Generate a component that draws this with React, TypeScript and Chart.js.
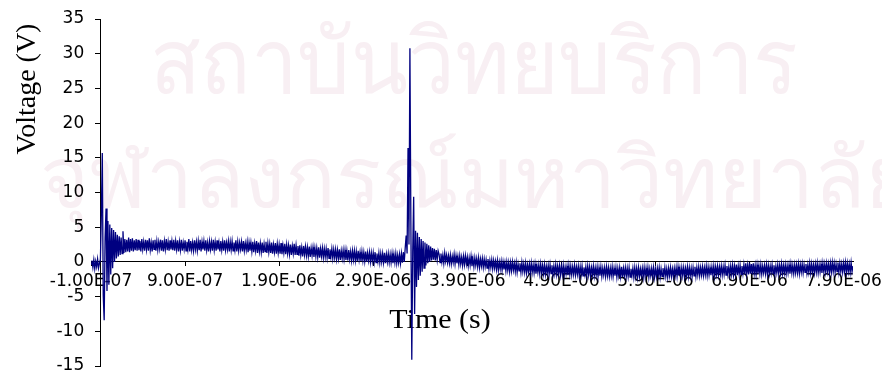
import React, { useEffect, useRef } from "react";
import { Chart, registerables } from "chart.js";

Chart.register(...registerables);

// Oscilloscope record, one sample every 10 ns.
const SAMPLE_STEP = 1e-8;

const preTriggerStart = -1.0e-7;
const preTrigger = [-0.3, 0.2, -0.8, 0.3, -1.0, 0.1, -0.7, 0.4, -0.9, -0.2];

const firstTransientStart = 0;
const firstTransient = [
  0.4, 6.8, 15.7, -4.8, -8.4, 3.5, 7.7, -4.2, 5.9, -3.3,
  5.4, -1.8, 4.9, -0.9, 4.6, 0.0, 4.3, 0.5, 3.9, 0.8,
  3.7, 1.0, 3.5, 1.2, 4.4, 1.3, 3.3, 1.4, 3.2, 1.5,
];

const plateauStart = 3.0e-7;
const plateau = [
  3.5, 1.4, 3.3, 1.6, 3.4, 1.5, 3.1, 1.7, 3.3, 1.6,
  3.2, 1.7, 3.0, 1.5, 3.3, 1.8, 2.9, 1.6, 3.2, 1.8,
  3.1, 1.6, 3.4, 1.7, 2.8, 1.5, 3.1, 1.8, 3.2, 1.6,
  3.0, 1.7, 2.9, 1.9, 3.2, 1.6, 3.1, 1.5, 3.0, 1.8,
  3.3, 1.7, 2.9, 1.6, 3.1, 1.8, 3.0, 1.7, 3.2, 1.6,
  3.0, 1.8, 3.1, 1.5, 2.9, 1.7, 3.2, 1.6, 2.8, 1.8,
  3.1, 1.6, 2.9, 1.8, 3.3, 1.5, 3.0, 1.7, 2.8, 1.6,
  3.1, 1.8, 2.9, 1.6, 3.0, 1.7, 3.2, 1.5, 2.9, 1.8,
  3.0, 1.6, 3.1, 1.7, 2.8, 1.5, 3.0, 1.8, 2.9, 1.6,
  3.2, 1.7, 2.9, 1.6, 3.1, 1.8, 2.8, 1.5, 3.0, 1.7,
  2.9, 1.6, 3.1, 1.7, 2.8, 1.8, 3.0, 1.5, 2.9, 1.7,
  3.0, 1.6, 2.8, 1.7, 3.1, 1.5, 2.9, 1.6, 2.8, 1.8,
  2.9, 1.5, 3.0, 1.6, 2.7, 1.7, 2.9, 1.4, 2.8, 1.6,
  2.8, 1.5, 2.9, 1.4, 2.7, 1.6, 3.0, 1.3, 2.8, 1.5,
  2.7, 1.4, 2.8, 1.3, 2.6, 1.5, 2.9, 1.3, 2.7, 1.4,
  2.6, 1.3, 2.8, 1.2, 2.5, 1.4, 2.7, 1.2, 2.6, 1.3,
  2.5, 1.2, 2.7, 1.1, 2.4, 1.3, 2.6, 1.1, 2.5, 1.2,
  2.4, 1.1, 2.5, 1.0, 2.3, 1.2, 2.6, 1.0, 2.4, 1.1,
  2.3, 0.9, 2.4, 1.0, 2.1, 0.8, 2.3, 1.0, 2.2, 0.9,
  2.1, 0.8, 2.2, 0.7, 2.0, 0.9, 2.1, 0.7, 2.0, 0.8,
  2.0, 0.7, 2.1, 0.6, 1.9, 0.8, 2.0, 0.6, 1.9, 0.7,
  1.9, 0.6, 2.0, 0.5, 1.8, 0.7, 1.9, 0.5, 1.8, 0.6,
  1.8, 0.4, 1.7, 0.5, 1.8, 0.3, 1.6, 0.5, 1.7, 0.4,
  1.7, 0.3, 1.6, 0.2, 1.7, 0.4, 1.5, 0.2, 1.6, 0.3,
  1.6, 0.2, 1.5, 0.1, 1.6, 0.3, 1.4, 0.1, 1.5, 0.2,
  1.4, 0.1, 1.5, 0.0, 1.3, 0.2, 1.4, 0.0, 1.3, 0.1,
  1.3, 0.0, 1.4, -0.1, 1.2, 0.1, 1.3, -0.1, 1.2, 0.0,
  1.2, -0.1, 1.3, -0.2, 1.1, 0.0, 1.2, -0.1, 1.1, -0.1,
  1.2, -0.2, 1.1, -0.1, 1.2, -0.2, 1.0, -0.1, 1.1, -0.2,
  1.2, -0.1, 1.4, 0.0,
];

const secondTransientStart = 3.24e-6;
const secondTransient = [
  2.0, 3.8, 1.2, 16.4, 2.5, 30.8, 6.0, -14.1, 1.5, 9.4,
  -7.5, 4.5, -3.6, 4.2, -2.6, 3.6, -2.0, 3.3, -1.4, 3.0,
  -0.9, 2.8, -0.5, 2.6, -0.2, 2.4, 0.0, 2.2, 0.2, 2.0,
  0.3, 1.9, 0.2, 1.7, 0.3, 1.6,
];

const tailEarlyStart = 3.6e-6;
const tailEarly = [
  1.1, -0.1, 1.2, 0.0, 1.0, -0.2, 1.3, 0.1, 1.0, -0.1,
  0.9, -0.2, 1.0, -0.3, 0.8, -0.1, 1.1, -0.3, 0.9, -0.2,
  0.8, -0.4, 0.9, -0.3, 0.7, -0.5, 0.8, -0.4, 0.9, -0.3,
  0.7, -0.6, 0.6, -0.5, 0.8, -0.6, 0.5, -0.7, 0.6, -0.5,
  0.5, -0.7, 0.6, -0.8, 0.4, -0.6, 0.5, -0.8, 0.4, -0.7,
  0.3, -0.9, 0.4, -1.0, 0.2, -0.8, 0.3, -1.0, 0.2, -0.9,
  0.1, -1.1, 0.2, -1.2, 0.0, -1.0, 0.1, -1.2, 0.0, -1.1,
  -0.1, -1.3, 0.0, -1.2, -0.1, -1.4, -0.1, -1.3, 0.0, -1.2,
  -0.2, -1.4, -0.1, -1.5, -0.3, -1.3, -0.2, -1.5, -0.1, -1.4,
  -0.3, -1.5, -0.2, -1.6, -0.4, -1.4, -0.3, -1.6, -0.2, -1.5,
  -0.4, -1.6, -0.3, -1.7, -0.5, -1.5, -0.4, -1.7, -0.3, -1.6,
  -0.5, -1.7, -0.4, -1.8, -0.6, -1.6, -0.5, -1.8, -0.4, -1.7,
  -0.5, -1.8, -0.6, -1.7, -0.4, -1.8, -0.6, -1.7, -0.5, -1.9,
  -0.6, -1.8, -0.5, -1.9, -0.7, -1.7, -0.6, -1.9, -0.5, -1.8,
  -0.6, -1.9, -0.7, -1.8, -0.5, -1.9, -0.7, -1.8, -0.6, -2.0,
  -0.7, -1.9, -0.6, -2.0, -0.8, -1.8, -0.7, -2.0, -0.6, -1.9,
  -0.7, -2.0, -0.8, -1.9, -0.6, -2.0, -0.8, -1.9, -0.7, -2.1,
  -0.8, -2.0, -0.7, -2.1, -0.9, -1.9, -0.8, -2.1, -0.7, -2.0,
  -0.8, -2.1, -0.9, -2.0, -0.7, -2.1, -0.9, -2.0, -0.8, -2.2,
  -0.9, -2.0, -0.8, -2.1, -0.7, -2.2, -0.9, -2.0, -0.8, -2.1,
  -0.9, -2.1, -0.8, -2.2, -1.0, -2.0, -0.9, -2.2, -0.8, -2.1,
  -0.9, -2.2, -0.8, -2.1, -1.0, -2.0, -0.9, -2.2, -0.8, -2.1,
];

const tailLateStart = 5.8e-6;
const tailLate = [
  -0.9, -2.1, -0.8, -2.2, -1.0, -2.0, -0.9, -2.1, -0.8, -2.2,
  -1.0, -2.1, -0.9, -2.0, -0.8, -2.2, -1.0, -2.1, -0.9, -2.0,
  -0.8, -2.1, -1.0, -2.2, -0.9, -2.0, -0.8, -2.1, -1.0, -2.1,
  -0.9, -2.0, -0.8, -2.1, -0.7, -2.0, -0.9, -2.1, -0.8, -2.0,
  -0.8, -2.1, -0.9, -2.0, -0.7, -2.1, -0.8, -2.0, -0.9, -2.1,
  -0.8, -2.0, -0.7, -2.1, -0.8, -1.9, -0.7, -2.0, -0.8, -1.9,
  -0.7, -2.0, -0.8, -1.9, -0.6, -2.0, -0.7, -1.9, -0.8, -1.9,
  -0.7, -1.9, -0.6, -2.0, -0.7, -1.8, -0.6, -1.9, -0.7, -1.8,
  -0.6, -1.9, -0.7, -1.8, -0.5, -1.9, -0.6, -1.8, -0.7, -1.9,
  -0.6, -1.8, -0.5, -1.9, -0.6, -1.8, -0.4, -1.9, -0.6, -1.8,
  -0.5, -1.8, -0.6, -1.7, -0.4, -1.8, -0.2, -1.7, -0.5, -1.8,
  -0.1, -1.7, -0.3, -1.8, -0.2, -1.7, -0.5, -1.8, -0.4, -1.7,
  -0.5, -1.7, -0.4, -1.8, -0.6, -1.6, -0.5, -1.7, -0.4, -1.8,
  -0.5, -1.7, -0.6, -1.6, -0.4, -1.7, -0.5, -1.8, -0.6, -1.6,
  -0.4, -1.7, -0.5, -1.6, -0.3, -1.7, -0.5, -1.6, -0.4, -1.7,
  -0.5, -1.6, -0.4, -1.7, -0.3, -1.6, -0.5, -1.7, -0.4, -1.6,
  -0.4, -1.6, -0.3, -1.7, -0.4, -1.5, -0.3, -1.6, -0.4, -1.5,
  -0.3, -1.6, -0.4, -1.5, -0.2, -1.6, -0.3, -1.5, -0.4, -1.6,
  -0.3, -1.5, -0.2, -1.6, -0.4, -1.5, -0.3, -1.6, -0.2, -1.5,
  -0.3, -1.5, -0.2, -1.4, -0.3, -1.6, -0.2, -1.5, -0.1, -1.4,
  -0.2, -1.5, -0.3, -1.4, -0.1, -1.5, -0.2, -1.4, -0.3, -1.5,
  -0.2, -1.4, -0.1, -1.5, -0.2, -1.4, -0.3, -1.5, -0.1, -1.4,
  -0.6,
];

const xTickValues = [-1.0e-7, 9.0e-7, 1.9e-6, 2.9e-6, 3.9e-6, 4.9e-6, 5.9e-6, 6.9e-6, 7.9e-6];
const xTickLabels = [
  "-1.00E-07", "9.00E-07", "1.90E-06", "2.90E-06", "3.90E-06",
  "4.90E-06", "5.90E-06", "6.90E-06", "7.90E-06",
];
const xMin = -1.0e-7;
const xMax = 8.0e-6;
const yMin = -15;
const yMax = 35;
const yStep = 5;

const xTitle = "Time (s)";
const yTitle = "Voltage (V)";
const watermarkLines = ["สถาบันวิทยบริการ", "จุฬาลงกรณ์มหาวิทยาลัย"];

function toPoints(start: number, values: number[]) {
  return values.map((v, k) => ({ x: start + k * SAMPLE_STEP, y: v }));
}

const TICK_FONT = { family: "'DejaVu Sans', sans-serif", size: 17 };
// The y labels sit left of the axis line that crosses at t = 0.
const Y_LABEL_GAP = "\u00a0\u00a0\u00a0";

// Axes crossing inside the plot should not reserve any layout room.
function noRoom(scale: any) {
  scale.paddingTop = 0;
  scale.paddingBottom = 0;
  scale.paddingLeft = 0;
  scale.paddingRight = 0;
  if (scale.isHorizontal()) scale.height = 0;
  else scale.width = 0;
}

const decorations = {
  id: "decorations",
  beforeDraw(chart: any) {
    const ctx = chart.ctx;
    ctx.save();
    ctx.fillStyle = "#f8eff3";
    ctx.textBaseline = "alphabetic";
    ctx.textAlign = "left";
    ctx.font = "86px 'Noto Sans', sans-serif";
    ctx.save();
    ctx.translate(150, 93);
    ctx.scale(0.97, 1.05);
    ctx.fillText(watermarkLines[0], 0, 0);
    ctx.restore();
    ctx.font = "84px 'Noto Sans', sans-serif";
    ctx.fillText(watermarkLines[1], 40, 207);
    ctx.restore();
  },
  beforeDatasetsDraw(chart: any) {
    const ctx = chart.ctx;
    ctx.save();
    ctx.fillStyle = "#000";
    ctx.font = "28px 'Liberation Serif', 'Times New Roman', serif";
    ctx.textAlign = "center";
    ctx.textBaseline = "middle";
    ctx.save();
    ctx.translate(440, 321);
    ctx.scale(1.07, 1);
    ctx.fillText(xTitle, 0, 0);
    ctx.restore();
    ctx.translate(28, 89);
    ctx.rotate(-Math.PI / 2);
    ctx.fillText(yTitle, 0, 0);
    ctx.restore();
  },
};

export default function App() {
  const canvasRef = useRef<HTMLCanvasElement | null>(null);

  useEffect(() => {
    const canvas = canvasRef.current;
    if (!canvas) return;
    const data = [
      ...toPoints(preTriggerStart, preTrigger),
      ...toPoints(firstTransientStart, firstTransient),
      ...toPoints(plateauStart, plateau),
      ...toPoints(secondTransientStart, secondTransient),
      ...toPoints(tailEarlyStart, tailEarly),
      ...toPoints(tailLateStart, tailLate),
    ];
    const chart = new Chart(canvas, {
      type: "line",
      data: {
        datasets: [
          {
            data,
            borderColor: "#000080",
            borderWidth: 1.3,
            pointRadius: 0,
            tension: 0,
            fill: false,
          },
        ],
      },
      options: {
        responsive: false,
        animation: false,
        events: [],
        layout: { padding: { left: 91, right: 29, top: 19, bottom: 6 } },
        plugins: { legend: { display: false }, tooltip: { enabled: false } },
        scales: {
          x: {
            type: "linear",
            min: xMin,
            max: xMax,
            position: { y: 0 } as any,
            afterFit: noRoom,
            grid: { display: true, drawOnChartArea: false, drawTicks: true, tickLength: 4, color: "#000" },
            border: { display: true, color: "#000", width: 1 },
            afterBuildTicks: (scale: any) => {
              scale.ticks = xTickValues.map((v) => ({ value: v }));
            },
            ticks: {
              autoSkip: false,
              maxRotation: 0,
              minRotation: 0,
              color: "#000",
              font: TICK_FONT,
              padding: 5,
              callback: (_v: any, i: number) => xTickLabels[i],
            },
          },
          y: {
            type: "linear",
            min: yMin,
            max: yMax,
            position: { x: 0 } as any,
            afterFit: noRoom,
            grid: { display: true, drawOnChartArea: false, drawTicks: true, tickLength: 5, color: "#000" },
            border: { display: true, color: "#000", width: 1 },
            ticks: {
              stepSize: yStep,
              color: "#000",
              font: TICK_FONT,
              padding: 0,
              callback: (v: any) => `${v}${Y_LABEL_GAP}`,
            },
          },
        },
      },
      plugins: [decorations],
    });
    return () => chart.destroy();
  }, []);

  return (
    <div style={{ position: "fixed", left: 0, top: 0, width: 882, height: 372, background: "#fff" }}>
      <canvas ref={canvasRef} width={882} height={372} style={{ display: "block" }} />
    </div>
  );
}
